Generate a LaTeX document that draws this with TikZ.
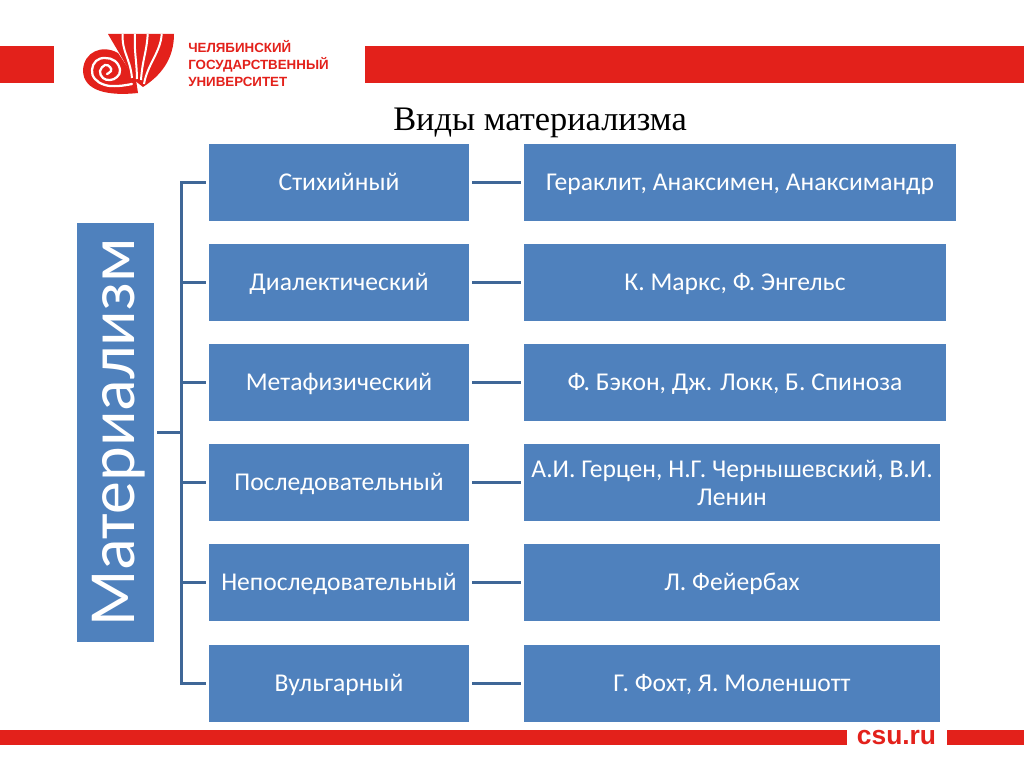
\documentclass[tikz,border=0pt]{standalone}
\usepackage{fontspec}
\setmainfont{Carlito}
\newfontfamily\titlefont{Liberation Serif}
\newfontfamily\logofont{Liberation Sans}
\definecolor{boxblue}{HTML}{4F81BD}
\definecolor{linkblue}{HTML}{3F6797}
\definecolor{csured}{HTML}{E3211B}
\newcommand\lowstrut{\rule[-6.3pt]{0pt}{24pt}}
\begin{document}
\begin{tikzpicture}[x=0.75pt,y=-0.75pt,
  bluebox/.style={fill=boxblue,draw=none,text=white,inner sep=0pt,align=center,font=\fontsize{19.2}{21}\selectfont},
  link/.style={draw=linkblue,line width=2.2pt},
  bar/.style={fill=csured,draw=none}]
\useasboundingbox (0,0) rectangle (1024,767);
\fill[white] (0,0) rectangle (1024,767);
% header and footer bars
\fill[bar] (0,46) rectangle (54,83);
\fill[bar] (365,46) rectangle (1024,83);
\fill[bar] (0,730) rectangle (847,745);
\fill[bar] (947,730) rectangle (1024,745);
\node[text=csured,inner sep=0pt,font=\logofont\bfseries\fontsize{19.8}{21}\selectfont] (site) at (896.5,737.5) {csu.ru};
% logo
\fill[csured] (138,93) .. controls (110,96) and (83,92) .. (83,70) .. controls (84,52) and (102,44) .. (118,53) -- (136,80) -- cycle;
\fill[csured] (108,34) -- (174,34) .. controls (174,60) and (160,76) .. (143,87) -- (134,80) .. controls (125,62) and (116,48) .. (108,34) -- cycle;
\foreach \a/\b/\c/\d in {132/78/122.7/34,137/79/135/34,141/80/147.7/34,144/84/161.7/34}
  \draw[white,line width=1.5pt] (\a,\b) .. controls (\a+0.2*\c-0.2*\a,\b-20) and (\c-1,\d+18) .. (\c,\d);
\draw[white,line width=1.7pt,line cap=round] plot[smooth,tension=0.7] coordinates {(132,84) (118,86) (105,85) (95,79) (92,70) (96,61) (105,58) (115,61) (120,70) (117,77) (110,80) (103,78) (100,71) (105,65) (110,67) (111,71) (107,74)};
\node[anchor=north west,text=csured,inner sep=0pt,align=left,font=\logofont\bfseries\fontsize{10}{12.6}\selectfont] (logotext) at (188,40.5) {ЧЕЛЯБИНСКИЙ\\ГОСУДАРСТВЕННЫЙ\\УНИВЕРСИТЕТ};
% title
\node[text=black,inner sep=0pt,font=\titlefont\fontsize{25.8}{28}\selectfont] (title) at (540,122.5) {Виды материализма};
% root
\path[fill=boxblue] (77,223) rectangle (154,642);
\node[rotate=90,text=white,inner sep=0pt,font=\fontsize{49.4}{52}\selectfont] (root) at (118.5,432.5) {Материализм};
\coordinate (rootE) at (154,432.5);
\coordinate (bus) at (181.5,432.5);
% middle column
\foreach \n/\y/\t in {m1/144/Стихийный,m2/244/Диалектический,m3/344/Метафизический,m4/444/Последовательный,m5/544/Непоследовательный,m6/645/Вульгарный}
  \node[bluebox,minimum width=195pt,minimum height=57.75pt] (\n) at (339,\y+38.5) {\lowstrut\t};
% right column
\node[bluebox,minimum width=324pt,minimum height=57.75pt] (r1) at (740,182.5) {\lowstrut Гераклит, Анаксимен, Анаксимандр};
\node[bluebox,minimum width=316.5pt,minimum height=57.75pt] (r2) at (735,282.5) {\lowstrut К. Маркс, Ф. Энгельс};
\node[bluebox,minimum width=316.5pt,minimum height=57.75pt] (r3) at (735,382.5) {\lowstrut Ф. Бэкон, Дж. Локк, Б. Спиноза};
\node[bluebox,minimum width=312pt,minimum height=57.75pt] (r4) at (732,482.5) {\rule{0pt}{19.2pt}А.И. Герцен, Н.Г. Чернышевский, В.И.\\\strut Ленин};
\node[bluebox,minimum width=312pt,minimum height=57.75pt] (r5) at (732,582.5) {\lowstrut Л. Фейербах};
\node[bluebox,minimum width=312pt,minimum height=57.75pt] (r6) at (732,683.5) {\lowstrut Г. Фохт, Я. Моленшотт};
% connectors
\draw[link] ([xshift=2.25pt]rootE) -- (bus);
\foreach \i in {1,...,6}{
  \draw[link,shorten >=2.25pt] (bus) |- (m\i.west);
  \draw[link,line width=1.6pt,shorten >=2.25pt,shorten <=2.25pt] (m\i.east) -- (m\i.east -| r\i.west);
}
\end{tikzpicture}
\end{document}
